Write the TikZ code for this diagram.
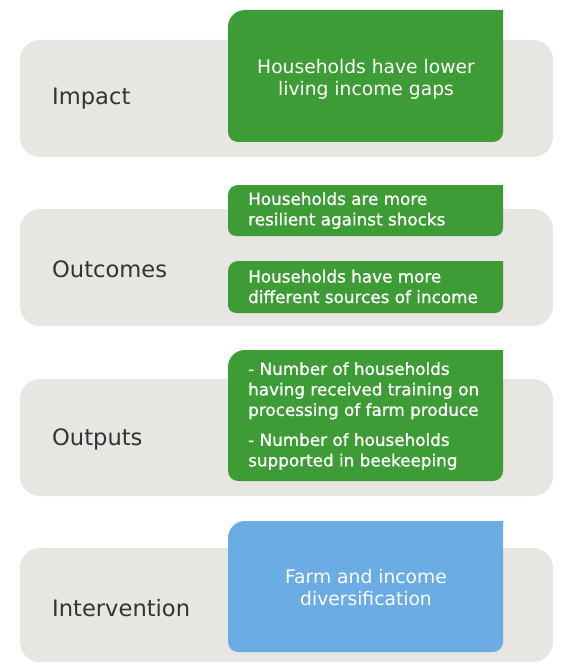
\documentclass[tikz,border=0pt]{standalone}
\usepackage{fontspec}
\setmainfont{DejaVu Sans}
\newfontfamily\boldish[FakeBold=1.0]{DejaVu Sans}
\definecolor{bandgray}{HTML}{E7E6E3}
\definecolor{boxgreen}{HTML}{3E9C36}
\definecolor{boxblue}{HTML}{6AACE3}
\definecolor{labelgray}{HTML}{333333}
\newcommand\cardshape[7]{%
  \fill[#7] (#1,-#2-#5) arc[start angle=180,end angle=90,radius=#5pt] -- (#3,-#2) -- (#3,-#4+#6)
    arc[start angle=0,end angle=-90,radius=#6pt] -- (#1+#6,-#4)
    arc[start angle=270,end angle=180,radius=#6pt] -- cycle;}
\tikzset{
  band/.style={fill=bandgray, rounded corners=20pt},
  rowlabel/.style={anchor=west, text=labelgray, font=\fontsize{22.6}{26}\selectfont, inner sep=0pt},
  bigtext/.style={align=center, text=white, font=\fontsize{18.7}{22}\selectfont, inner sep=0pt},
  smalltext/.style={anchor=west, align=left, text=white, font=\boldish\fontsize{16.8}{20.5}\selectfont, inner sep=0pt},
}
\begin{document}
\begin{tikzpicture}[x=1pt,y=1pt]
\useasboundingbox (0,0) rectangle (569,-663);
% bands
\fill[band] (20,-40) rectangle (553,-157);
\fill[band] (20,-209) rectangle (553,-326);
\fill[band] (20,-379) rectangle (553,-496);
\fill[band] (20,-548) rectangle (553,-662);
% boxes
\cardshape{228}{10}{503}{142}{17}{10}{boxgreen}
\cardshape{228}{185}{503}{236}{10}{8}{boxgreen}
\cardshape{228}{261}{503}{313}{10}{8}{boxgreen}
\cardshape{228}{350}{503}{481}{17}{10}{boxgreen}
\cardshape{228}{521}{503}{652}{17}{10}{boxblue}
% labels
\node[rowlabel] (limpact) at (52,-99) {Impact};
\node[rowlabel] (loutcomes) at (52,-269) {Outcomes};
\node[rowlabel] (loutputs) at (52,-439) {Outputs};
\node[rowlabel] (lintervention) at (52,-608) {Intervention};
% texts
\node[bigtext] (impact) at (366,-79) {Households have lower\\living income gaps};
\node[smalltext] (outcome1) at (248,-210.5) {Households are more\\resilient against shocks};
\node[smalltext] (outcome2) at (248,-286.5) {Households have more\\different sources of income};
\node[smalltext] (outputs) at (248,-416) {- Number of households\\having received training on\\processing of farm produce\\[9.5pt]- Number of households\\supported in beekeeping};
\node[bigtext] (intervention) at (366,-588) {Farm and income\\diversification};
\end{tikzpicture}
\end{document}
